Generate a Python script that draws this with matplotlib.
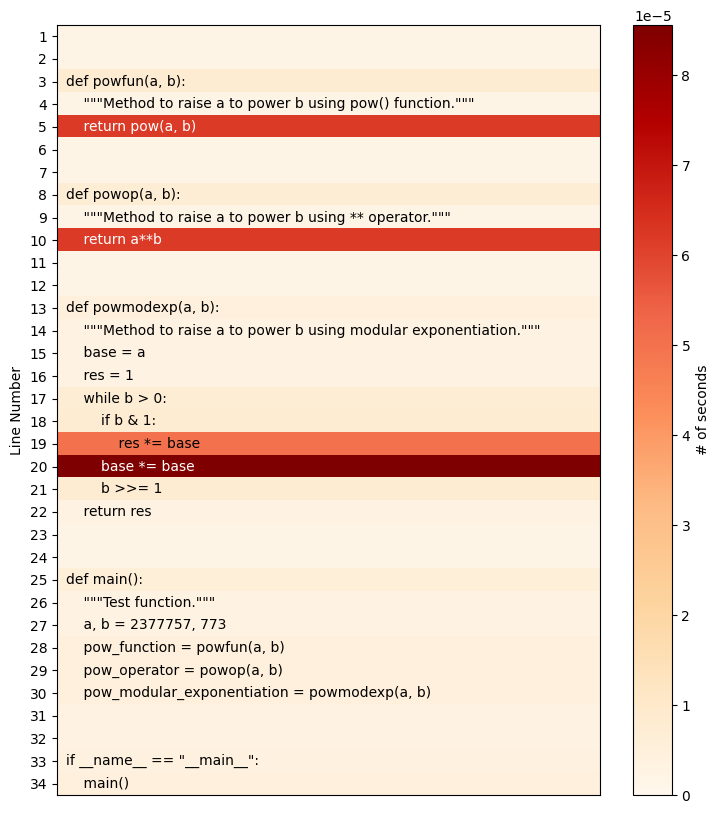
import numpy as np
import matplotlib.pyplot as plt

# source lines being profiled
code_lines = [
    '',
    '',
    'def powfun(a, b):',
    '    """Method to raise a to power b using pow() function."""',
    '    return pow(a, b)',
    '',
    '',
    'def powop(a, b):',
    '    """Method to raise a to power b using ** operator."""',
    '    return a**b',
    '',
    '',
    'def powmodexp(a, b):',
    '    """Method to raise a to power b using modular exponentiation."""',
    '    base = a',
    '    res = 1',
    '    while b > 0:',
    '        if b & 1:',
    '            res *= base',
    '        base *= base',
    '        b >>= 1',
    '    return res',
    '',
    '',
    'def main():',
    '    """Test function."""',
    '    a, b = 2377757, 773',
    '    pow_function = powfun(a, b)',
    '    pow_operator = powop(a, b)',
    '    pow_modular_exponentiation = powmodexp(a, b)',
    '',
    '',
    'if __name__ == "__main__":',
    '    main()',
]

# seconds per line (x 1e-5)
seconds = np.array([
    0.2, 0.2, 0.8, 0.2, 6.2, 0.2, 0.2, 0.7, 0.2, 6.2,
    0.2, 0.2, 0.5, 0.3, 0.3, 0.3, 0.7, 0.8, 5.0, 8.56,
    0.8, 0.3, 0.2, 0.2, 0.6, 0.3, 0.3, 0.5, 0.5, 0.5,
    0.3, 0.3, 0.4, 0.5,
]) * 1e-5

line_numbers = np.arange(1, len(code_lines) + 1)

fig = plt.figure(figsize=(7.2, 8.14), dpi=100)
ax = fig.add_axes([0.079, 0.0233, 0.754, 0.946])
cax = fig.add_axes([0.879, 0.0233, 0.054, 0.946])

vmax = seconds.max()
im = ax.imshow(seconds.reshape(-1, 1), cmap='OrRd', aspect='auto',
               vmin=0, vmax=vmax)

# code text on top of each row
for i, line in enumerate(code_lines):
    color = 'white' if seconds[i] > 0.6 * vmax else 'black'
    ax.text(-0.483, i, line, va='center', ha='left', fontsize=10, color=color)

ax.set_yticks(np.arange(len(code_lines)))
ax.set_yticklabels(line_numbers)
ax.set_xticks([])
ax.set_ylabel("Line Number")

cbar = fig.colorbar(im, cax=cax)
cbar.set_label("# of seconds")

plt.savefig("out.png", dpi=100)
